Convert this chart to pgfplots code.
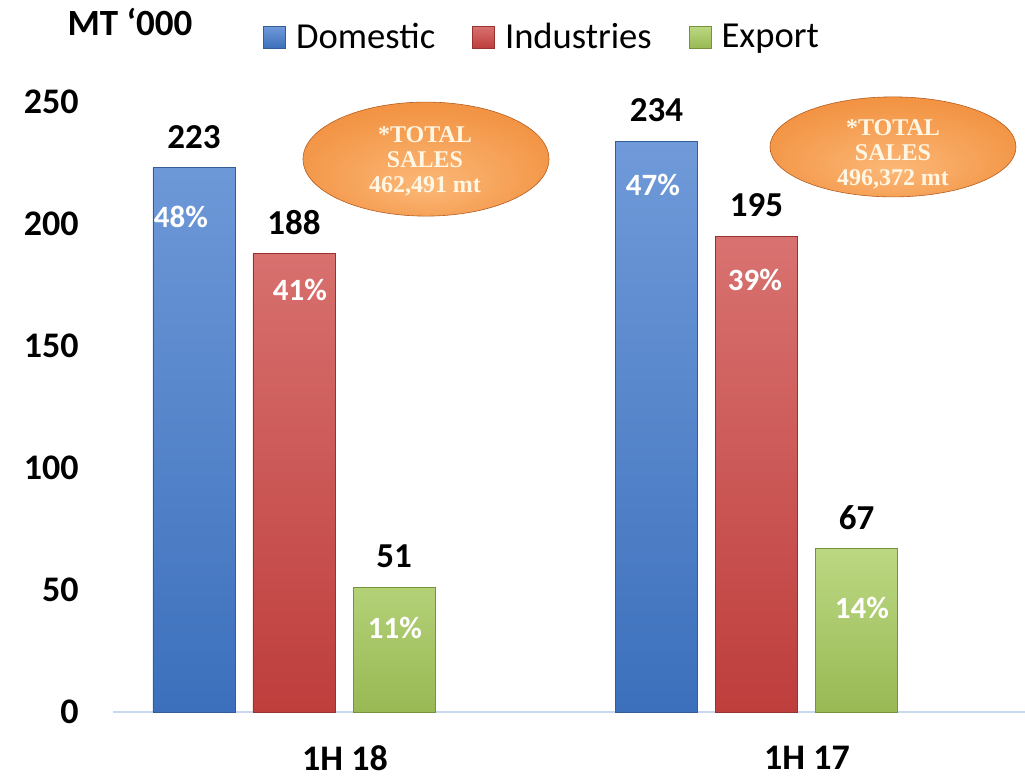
\documentclass[border=0pt]{standalone}
\usepackage{fontspec}
\setmainfont{Carlito}
\newfontfamily\ovalfont{Liberation Serif}
\usepackage{pgfplots}
\pgfplotsset{compat=1.18}

\definecolor{domtop}{RGB}{112,154,217}
\definecolor{dombot}{RGB}{60,112,188}
\definecolor{domedge}{RGB}{52,92,152}
\definecolor{indtop}{RGB}{216,114,112}
\definecolor{indbot}{RGB}{190,62,60}
\definecolor{indedge}{RGB}{150,50,48}
\definecolor{exptop}{RGB}{188,216,130}
\definecolor{expbot}{RGB}{152,185,84}
\definecolor{expedge}{RGB}{118,146,60}
\definecolor{ovalin}{RGB}{252,184,120}
\definecolor{ovalmid}{RGB}{242,148,68}
\definecolor{ovalout}{RGB}{214,110,36}
\definecolor{ovaltext}{RGB}{255,246,228}
\definecolor{axisblue}{RGB}{200,216,238}

\pgfdeclareradialshading{oval}{\pgfpoint{0bp}{-12bp}}{color(0bp)=(ovalin); color(28bp)=(ovalmid); color(46bp)=(ovalmid); color(50bp)=(ovalout)}

\begin{document}
\begin{tikzpicture}
\begin{axis}[name=ax, scale only axis, width=456pt, height=305pt,
  xmin=113, xmax=1025, ymin=0, ymax=250, clip=false,
  /pgf/number format/assume math mode=true,
  axis lines*=left, y axis line style={draw=none},
  x axis line style={draw=axisblue, line width=1pt},
  major tick length=0pt,
  ytick={0,50,100,150,200,250},
  xtick={345,807}, xticklabels={1H 18,1H 17},
  tick label style={font=\fontsize{18}{20}\selectfont\bfseries, inner sep=0pt},
  yticklabel style={anchor=east, xshift=-17pt},
  xticklabel style={anchor=center, yshift=-23pt},
  ybar, bar width=82, bar shift=0pt,
  nodes near coords,
  nodes near coords style={font=\fontsize{17.5}{20}\selectfont\bfseries, text=black, anchor=center, yshift=15.5pt},
  legend columns=3,
  legend cell align=left,
  legend style={draw=none, fill=none, inner sep=0pt, at={(axis cs:263,276.6)}, anchor=west,
    font=\fontsize{18.3}{20}\selectfont, nodes={inner sep=0pt},
    /tikz/every odd column/.style={column sep=5pt},
    /tikz/every even column/.style={column sep=18.5pt}},
  legend image code/.code={\draw[#1] (0pt,-5.5pt) rectangle (11pt,5.5pt);},
]
\addplot[top color=domtop, bottom color=dombot, draw=domedge, line width=0.4pt]
  coordinates {(194,223) (656.5,234)};
\addplot[top color=indtop, bottom color=indbot, draw=indedge, line width=0.4pt]
  coordinates {(294,188) (756.5,195)};
\addplot[top color=exptop, bottom color=expbot, draw=expedge, line width=0.4pt]
  coordinates {(394,51) (856.5,67)};
\legend{Domestic,Industries,Export}

% share of each bar
\begin{scope}[every node/.style={text=white, font=\fontsize{15.5}{18}\selectfont\bfseries}]
\node at (axis cs:181,202.9) {\bfseries 48\%};
\node at (axis cs:300,173) {\bfseries 41\%};
\node at (axis cs:395,34.4) {\bfseries 11\%};
\node at (axis cs:653,216) {\bfseries 47\%};
\node at (axis cs:755,177) {\bfseries 39\%};
\node at (axis cs:862,42.6) {\bfseries 14\%};
\end{scope}

% total sales ovals
\shade[shading=oval, draw=ovalout!85!black, line width=0.3pt]
  (axis cs:426,226.6) ellipse [x radius=61.5pt, y radius=28.5pt];
\shade[shading=oval, draw=ovalout!85!black, line width=0.3pt]
  (axis cs:893,231.6) ellipse [x radius=61.5pt, y radius=25pt];
\node[align=center, text=ovaltext, font=\ovalfont\bfseries\fontsize{12}{12.5}\selectfont]
  at (axis cs:425,225.8) {*TOTAL\\SALES\\462,491 mt};
\node[align=center, text=ovaltext, font=\ovalfont\bfseries\fontsize{12}{12.5}\selectfont]
  at (axis cs:893,228.5) {*TOTAL\\SALES\\496,372 mt};

\node[font=\fontsize{18.5}{20}\selectfont\bfseries] at (axis cs:130,282.8) {MT ‘000};
\end{axis}
\pgfresetboundingbox
\path[use as bounding box] ([xshift=-56.5pt,yshift=-32.5pt]ax.south west) rectangle ([yshift=51pt]ax.north east);
\end{tikzpicture}
\end{document}
